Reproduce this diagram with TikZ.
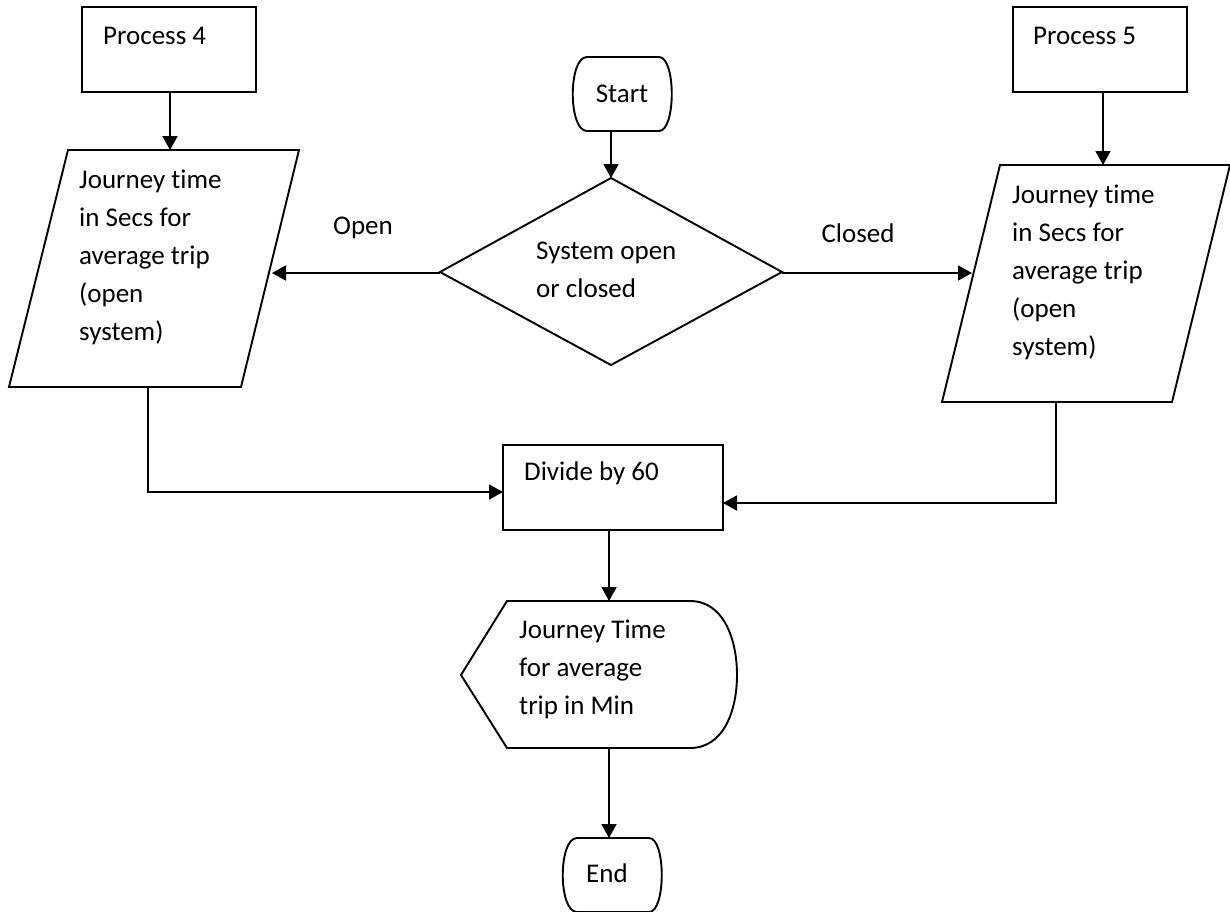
\documentclass[tikz,border=0pt]{standalone}
\usepackage{fontspec}
\setmainfont{Carlito}[Ligatures=CommonOff]
\usetikzlibrary{arrows.meta}
\tikzset{
  shp/.style={draw=black, line width=1.9pt, line join=miter},
  conn/.style={draw=black, line width=1.9pt, -{Triangle[length=14pt,width=15pt]}},
  txt/.style={inner sep=0pt, align=left, font=\fontsize{27}{38}\selectfont},
}
\begin{document}
\begin{tikzpicture}[x=1pt,y=-1pt]
\useasboundingbox (0,0) rectangle (1230,911);
\fill[white] (0,0) rectangle (1230,911);

% Process 4
\draw[shp] (82,7) rectangle (256,92);
\coordinate (p4b) at (170,92);
\node[txt, anchor=west] (p4t) at (103,36) {Process 4};

% Process 5
\draw[shp] (1013,7) rectangle (1187,92);
\coordinate (p5b) at (1103,92);
\node[txt, anchor=west] (p5t) at (1033,36) {Process 5};

% Left parallelogram
\draw[shp] (68,150) -- (299,150) -- (241,387) -- (9,387) -- cycle;
\coordinate (lpt) at (170,150);
\coordinate (lpr) at (272,273);
\coordinate (lpb) at (148,387);
\node[txt, anchor=west] (lpx) at (79,257) {Journey time\\in Secs for\\average trip\\(open\\system)};

% Right parallelogram
\draw[shp] (1000,165) -- (1230,165) -- (1172,402) -- (942,402) -- cycle;
\coordinate (rpt) at (1103,165);
\coordinate (rpl) at (972,273);
\coordinate (rpb) at (1056,402);
\node[txt, anchor=west] (rpx) at (1012,272) {Journey time\\in Secs for\\average trip\\(open\\system)};

% Start
\draw[shp] (587,57) -- (659,57) .. controls (676,57) and (676,131) .. (659,131)
  -- (587,131) .. controls (568,131) and (568,57) .. (587,57) -- cycle;
\coordinate (stb) at (611,131);
\node[txt] (stt) at (622,94) {Start};

% Diamond
\draw[shp] (611,178) -- (782,272) -- (611,365) -- (440,272) -- cycle;
\coordinate (dt) at (611,178);
\coordinate (dl) at (440,273);
\coordinate (dr) at (782,273);
\node[txt, anchor=west] (dx) at (536,270) {System open\\or closed};

% Labels
\node[txt] (lopen) at (363,228) {Open};
\node[txt] (lclosed) at (858,233) {Closed};

% Divide by 60
\draw[shp] (503,445) rectangle (723,530);
\coordinate (dvl) at (503,492);
\coordinate (dvr) at (723,503);
\coordinate (dvb) at (609,530);
\node[txt, anchor=west] (dvt) at (524,473) {Divide by 60};

% Display
\draw[shp] (507,601) -- (690,601) .. controls (724,601) and (737,640) .. (737,675)
  .. controls (737,710) and (724,748) .. (690,748) -- (507,748) -- (461,675) -- cycle;
\coordinate (dpt) at (609,601);
\coordinate (dpb) at (609,748);
\node[txt, anchor=west] (dpx) at (519,669) {Journey Time\\for average\\trip in Min};

% End
\draw[shp] (577,838) -- (649,838) .. controls (666,838) and (666,912) .. (649,912)
  -- (577,912) .. controls (558,912) and (558,838) .. (577,838) -- cycle;
\coordinate (ent) at (609,838);
\node[txt] (ent2) at (607,873) {End};

% Connectors
\draw[conn] (p4b) -- (lpt);
\draw[conn] (p5b) -- (rpt);
\draw[conn] (stb) -- (dt);
\draw[conn] (dl) -- (lpr);
\draw[conn] (dr) -- (rpl);
\draw[conn] (lpb) |- (dvl);
\draw[conn] (rpb) |- (dvr);
\draw[conn] (dvb) -- (dpt);
\draw[conn] (dpb) -- (ent);
\end{tikzpicture}
\end{document}
